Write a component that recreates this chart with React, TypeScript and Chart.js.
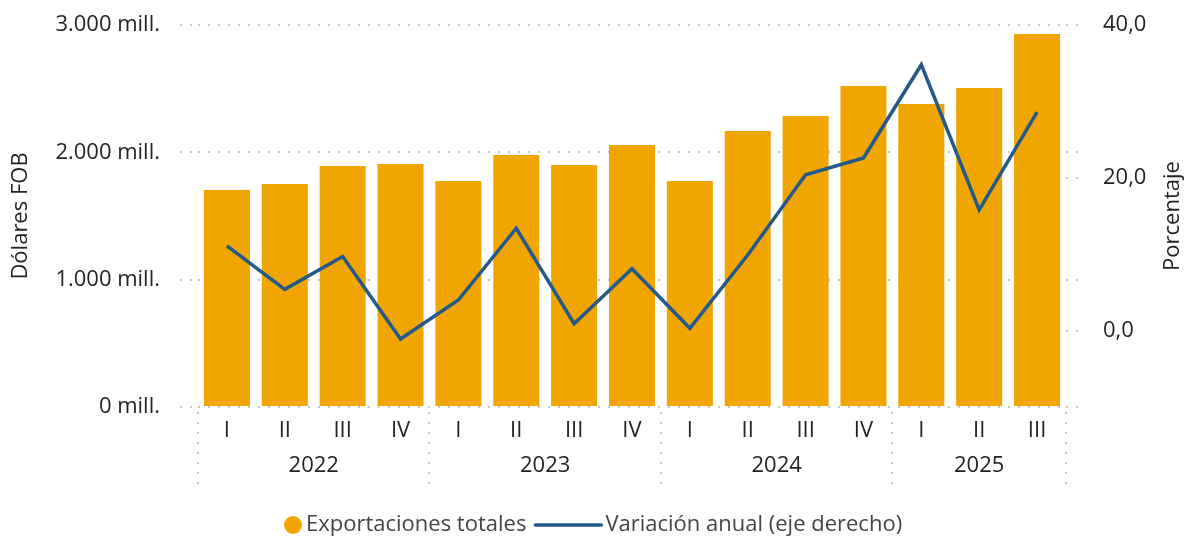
import { useEffect, useRef } from 'react';
import { Chart, registerables } from 'chart.js';

Chart.register(...registerables);

const quarters = ['I', 'II', 'III', 'IV', 'I', 'II', 'III', 'IV', 'I', 'II', 'III', 'IV', 'I', 'II', 'III'];
const years = ['2022', '2023', '2024', '2025'];
const yearOfQuarter = [0, 0, 0, 0, 1, 1, 1, 1, 2, 2, 2, 2, 3, 3, 3];
const exportValues = [1704, 1751, 1893, 1909, 1775, 1979, 1901, 2058, 1775, 2168, 2285, 2521, 2380, 2505, 2929];
const annualChange = [11.1, 5.4, 9.7, -1.1, 4.0, 13.4, 0.9, 8.1, 0.3, 9.9, 20.4, 22.6, 34.8, 15.8, 28.6];
const leftTicks = [0, 1000, 2000, 3000];
const rightTicks = [0, 20, 40];

const seriesNames = ['Exportaciones totales', 'Variación anual (eje derecho)'];
const leftTitle = 'Dólares FOB';
const rightTitle = 'Porcentaje';

const FONT = '"Open Sans", "Noto Sans", sans-serif';
const FS = 22;
const TEXT = '#252423';
const LEGEND_TEXT = '#444444';
const GRID = '#C8C8C8';
const BAR = '#F0A500';
const LINE = '#235A89';
const DOT = [2, 8];

const fmtMill = (v: number) => String(v).replace(/\B(?=(\d{3})+(?!\d))/g, '.') + ' mill.';
const fmtPct = (v: number) => v.toFixed(1).replace('.', ',');

const decorPlugin = {
  id: 'decor',
  afterDraw(chart: any) {
    const { ctx, chartArea } = chart;
    const x = chart.scales.x;
    const y = chart.scales.y;
    ctx.save();
    ctx.strokeStyle = GRID;
    ctx.lineWidth = 2;
    ctx.setLineDash(DOT);
    leftTicks.forEach((v) => {
      const py = Math.round(y.getPixelForValue(v));
      ctx.beginPath();
      ctx.moveTo(chartArea.right, py);
      ctx.lineTo(chartArea.right + 17, py);
      ctx.stroke();
    });
    const n = quarters.length;
    const half = (x.getPixelForValue(1) - x.getPixelForValue(0)) / 2;
    const bounds: number[] = [];
    for (let i = 0; i < n; i++) {
      if (i === 0 || yearOfQuarter[i] !== yearOfQuarter[i - 1]) bounds.push(x.getPixelForValue(i) - half);
    }
    bounds.push(x.getPixelForValue(n - 1) + half);
    bounds.forEach((bx) => {
      const px = Math.round(bx);
      ctx.beginPath();
      ctx.moveTo(px, chartArea.bottom + 5);
      ctx.lineTo(px, chartArea.bottom + 78);
      ctx.stroke();
    });
    ctx.setLineDash([]);
    ctx.fillStyle = TEXT;
    ctx.font = `${FS}px ${FONT}`;
    ctx.textAlign = 'center';
    ctx.textBaseline = 'middle';
    years.forEach((yr, gi) => {
      const idx = yearOfQuarter.map((g, i) => (g === gi ? i : -1)).filter((i) => i >= 0);
      const cx = (x.getPixelForValue(idx[0]) + x.getPixelForValue(idx[idx.length - 1])) / 2;
      ctx.fillText(yr, cx, chartArea.bottom + 59);
    });
    ctx.save();
    ctx.translate(1173, (chartArea.top + chartArea.bottom) / 2);
    ctx.rotate(-Math.PI / 2);
    ctx.fillText(rightTitle, 0, 0);
    ctx.restore();
    const ly = 525;
    ctx.font = `${FS}px ${FONT}`;
    const w1 = ctx.measureText(seriesNames[0]).width;
    let lx = 284;
    ctx.fillStyle = BAR;
    ctx.beginPath();
    ctx.arc(lx + 9, ly, 9, 0, Math.PI * 2);
    ctx.fill();
    lx += 22;
    ctx.fillStyle = LEGEND_TEXT;
    ctx.textAlign = 'left';
    ctx.fillText(seriesNames[0], lx, ly);
    lx += w1 + 9;
    ctx.strokeStyle = LINE;
    ctx.lineWidth = 3.5;
    ctx.lineCap = 'round';
    ctx.beginPath();
    ctx.moveTo(lx, ly);
    ctx.lineTo(lx + 66, ly);
    ctx.stroke();
    lx += 70;
    ctx.fillText(seriesNames[1], lx, ly);
    ctx.restore();
  },
};

export default function App() {
  const ref = useRef<HTMLCanvasElement | null>(null);
  useEffect(() => {
    if (!ref.current) return;
    const chart = new Chart(ref.current, {
      type: 'bar',
      data: {
        labels: quarters,
        datasets: [
          {
            type: 'line',
            label: seriesNames[1],
            data: annualChange,
            yAxisID: 'y1',
            borderColor: LINE,
            backgroundColor: LINE,
            borderWidth: 3.5,
            pointRadius: 0,
            tension: 0,
            borderJoinStyle: 'miter',
            order: 0,
          } as any,
          {
            type: 'bar',
            label: seriesNames[0],
            data: exportValues,
            yAxisID: 'y',
            backgroundColor: BAR,
            categoryPercentage: 1,
            barPercentage: 0.795,
            order: 1,
          },
        ],
      },
      options: {
        responsive: false,
        animation: false,
        devicePixelRatio: 1,
        layout: { padding: { top: 25, left: 0, right: 0, bottom: 0 } },
        plugins: { legend: { display: false }, tooltip: { enabled: false } },
        scales: {
          x: {
            type: 'category',
            offset: true,
            grid: { display: false, drawTicks: false },
            border: { display: false },
            ticks: { color: TEXT, font: { family: FONT, size: FS }, padding: 11, maxRotation: 0, autoSkip: false },
            afterFit: (s: any) => { s.height = 133; s.paddingLeft = 0; s.paddingRight = 0; },
          },
          y: {
            type: 'linear',
            position: 'left',
            min: 0,
            max: 3000,
            afterBuildTicks: (s: any) => { s.ticks = leftTicks.map((v) => ({ value: v })); },
            grid: { color: GRID, lineWidth: 2, tickLength: 18, tickColor: GRID, tickBorderDash: DOT, tickWidth: 2 },
            border: { display: false, dash: DOT },
            ticks: { color: TEXT, font: { family: FONT, size: FS }, padding: 20, callback: (v: any) => fmtMill(Number(v)) },
            title: { display: true, text: leftTitle, color: TEXT, font: { family: FONT, size: FS }, padding: { top: 8, bottom: 0 } },
            afterFit: (s: any) => { s.width = 198; s.paddingTop = 0; s.paddingBottom = 0; },
          },
          y1: {
            type: 'linear',
            position: 'right',
            min: -10,
            max: 40,
            afterBuildTicks: (s: any) => { s.ticks = rightTicks.map((v) => ({ value: v })); },
            grid: { drawOnChartArea: false, color: GRID, lineWidth: 2, tickLength: 17, tickColor: GRID, tickBorderDash: DOT, tickWidth: 2 },
            border: { display: false },
            ticks: { color: TEXT, font: { family: FONT, size: FS }, padding: 20, callback: (v: any) => fmtPct(Number(v)) },
            afterFit: (s: any) => { s.width = 120; s.paddingTop = 0; s.paddingBottom = 0; },
          },
        },
      },
      plugins: [decorPlugin],
    });
    return () => chart.destroy();
  }, []);
  return (
    <div style={{ position: 'fixed', left: 0, top: 0, width: 1186, height: 540 }}>
      <canvas ref={ref} width={1186} height={540} style={{ display: 'block' }} />
    </div>
  );
}
